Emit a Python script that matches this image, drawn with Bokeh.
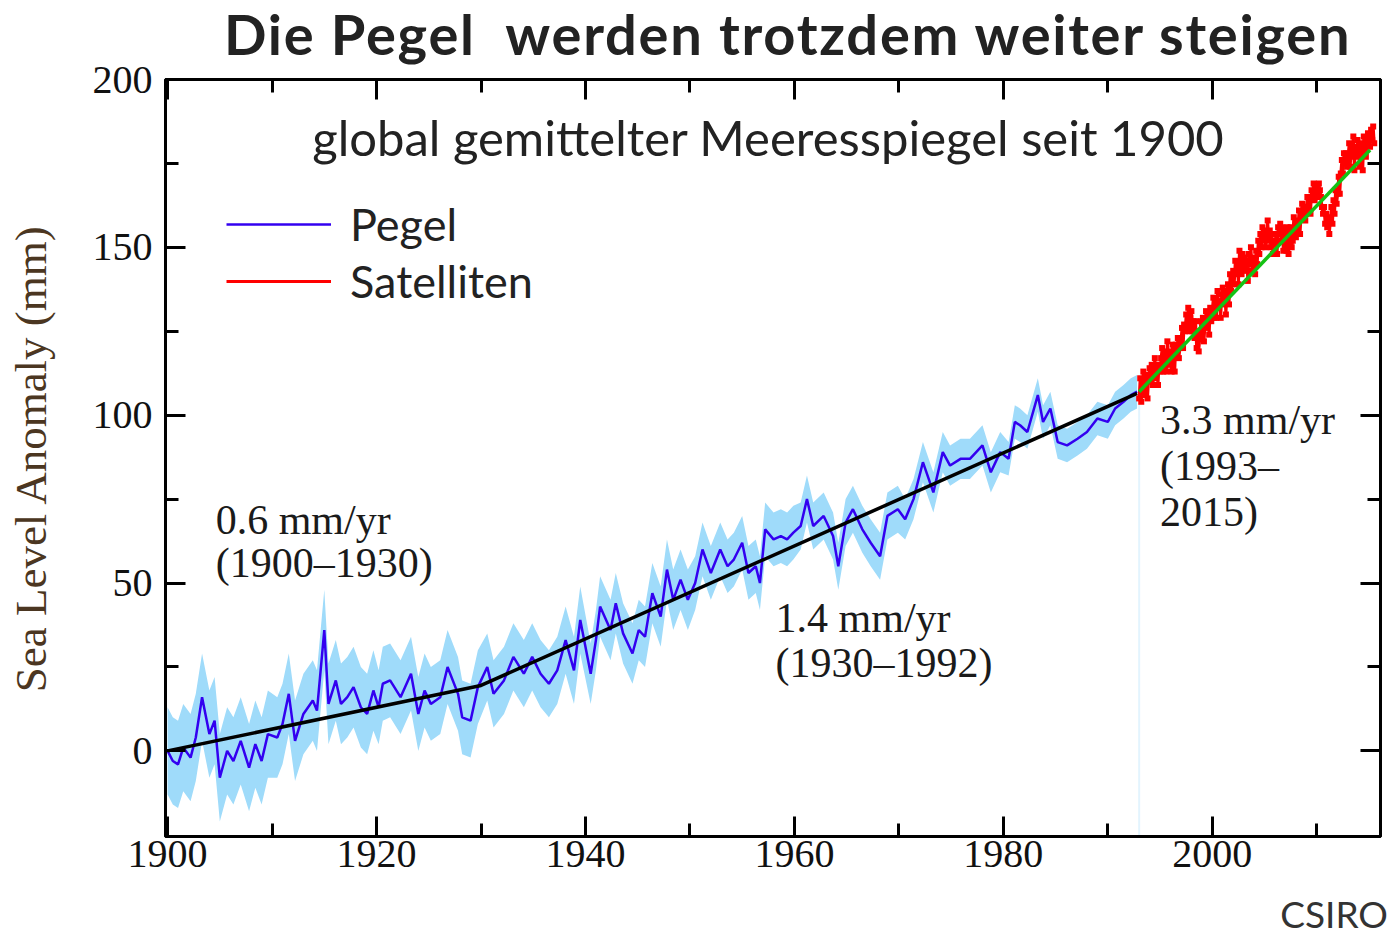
from bokeh.plotting import figure
from bokeh.models import (Range1d, LinearAxis, FixedTicker, Label, Legend, LegendItem,
                          ColumnDataSource, Div)
from bokeh.layouts import column
from bokeh.embed import file_html
from bokeh.resources import INLINE

# ---------------- data ----------------
tide_years = [1900.0, 1900.5, 1901.0, 1901.5, 1902.2, 1902.7, 1903.3, 1904.0, 1904.5, 1905.0,
              1905.7, 1906.3, 1907.0, 1907.8, 1908.4, 1909.0, 1909.6, 1910.5, 1911.0, 1911.6,
              1912.2, 1913.0, 1913.9, 1914.3, 1915.0, 1915.4, 1916.1, 1916.6, 1917.2, 1917.8,
              1918.5, 1919.1, 1919.7, 1920.2, 1920.6, 1921.3, 1922.3, 1923.3, 1924.0, 1924.6,
              1925.2, 1926.1, 1926.8, 1927.8, 1928.2, 1929.0, 1929.7, 1930.6, 1931.2, 1932.2,
              1933.1, 1934.1, 1934.9, 1935.7, 1936.5, 1937.3, 1938.1, 1938.9, 1939.5, 1940.5,
              1941.0, 1941.4, 1942.4, 1942.9, 1943.6, 1944.5, 1945.1, 1945.7, 1946.4, 1947.2,
              1947.8, 1948.4, 1949.1, 1949.8, 1950.5, 1951.2, 1952.0, 1952.9, 1953.6, 1954.2,
              1955.0, 1955.6, 1956.3, 1956.7, 1957.2, 1958.0, 1958.7, 1959.3, 1959.9, 1960.6,
              1961.2, 1961.8, 1962.8, 1963.7, 1964.2, 1964.9, 1965.6, 1966.5, 1967.3, 1968.2,
              1968.9, 1969.9, 1970.6, 1971.4, 1972.3, 1973.3, 1974.2, 1974.9, 1975.9, 1976.8,
              1978.0, 1978.8, 1979.7, 1980.5, 1981.1, 1981.6, 1982.3, 1983.3, 1983.8, 1984.5,
              1985.2, 1986.1, 1987.1, 1988.0, 1989.0, 1990.0, 1990.7, 1991.5, 1992.2, 1992.8]
tide_vals = [0, -3, -4, 1, -2, 4, 16, 5, 9, -8,
             0, -3, 3, -5, 2, -3, 5, 4, 8, 17,
             3, 11, 15, 12, 36, 14, 21, 14, 16, 19,
             13, 11, 18, 13, 20, 21, 16, 23, 11, 18,
             14, 16, 25, 17, 10, 9, 19, 25, 17, 21,
             28, 23, 28, 23, 20, 24, 33, 24, 39, 23,
             33, 43, 36, 44, 35, 29, 36, 34, 47, 40,
             54, 45, 51, 45, 50, 60, 53, 60, 55, 57,
             62, 53, 55, 50, 66, 63, 64, 63, 65, 67,
             75, 67, 70, 64, 55, 68, 72, 66, 62, 58,
             70, 72, 69, 75, 86, 77, 89, 85, 87, 87,
             91, 83, 89, 87, 98, 97, 95, 106, 98, 102,
             92, 91, 93, 95, 99, 98, 102, 104, 106, 107]
# half-width of the light-blue uncertainty band, per decade (mm)
band_decades = [1900, 1910, 1920, 1930, 1940, 1950, 1960, 1970, 1980, 1990]
band_halfwidth = [13, 12, 11, 10, 9, 8, 7, 6, 5, 5]

trend_years = [1900, 1930, 1992.8]
trend_vals = [0, 19.5, 106.5]

sat_start = 1993.0
sat_step = 0.1
sat_vals = [105, 111, 104, 109, 113, 106, 109, 112, 105, 111,
            114, 110, 115, 109, 112, 117, 111, 115, 109, 115,
            113, 117, 120, 113, 119, 115, 113, 122, 117, 115,
            119, 113, 121, 119, 113, 121, 118, 123, 117, 120,
            122, 126, 120, 127, 125, 130, 126, 132, 125, 129,
            131, 125, 128, 123, 128, 120, 125, 119, 123, 128,
            123, 129, 122, 127, 131, 126, 130, 124, 132, 128,
            131, 135, 129, 134, 129, 137, 132, 134, 129, 136,
            138, 133, 137, 130, 137, 139, 133, 142, 137, 139,
            143, 139, 146, 142, 145, 139, 149, 144, 142, 148,
            144, 147, 143, 146, 140, 148, 145, 150, 143, 147,
            145, 142, 149, 145, 152, 148, 154, 150, 156, 152,
            155, 150, 153, 158, 152, 155, 150, 154, 148, 152,
            151, 154, 148, 156, 154, 157, 152, 156, 149, 155,
            152, 149, 156, 148, 152, 156, 150, 152, 159, 155,
            153, 158, 155, 161, 154, 160, 163, 159, 162, 158,
            162, 165, 161, 165, 160, 167, 165, 169, 164, 166,
            168, 165, 169, 167, 165, 162, 160, 162, 157, 160,
            156, 159, 154, 158, 162, 157, 164, 160, 167, 163,
            166, 171, 166, 172, 176, 172, 178, 175, 178, 174,
            177, 181, 174, 180, 177, 183, 173, 180, 177, 182,
            179, 174, 181, 178, 173, 183, 180, 177, 182, 184,
            183, 180, 185, 182, 186, 181]
sat_years = [round(sat_start + sat_step * i, 2) for i in range(len(sat_vals))]

sat_trend_years = [1993.0, 2015.1]
sat_trend_vals = [107, 179]

x_major = [1900, 1920, 1940, 1960, 1980, 2000]
x_minor = [1900, 1910, 1920, 1930, 1940, 1950, 1960, 1970, 1980, 1990, 2000, 2010]
y_major = [0, 50, 100, 150, 200]
y_minor = [25, 75, 125, 175]

title_text = "Die Pegel\u00a0 werden trotzdem weiter steigen"
subtitle_text = "global gemittelter Meeresspiegel seit 1900"
y_label = "Sea Level Anomaly (mm)"
source_text = "CSIRO"

# ---------------- derived sources ----------------
def halfwidth(year):
    hw = band_halfwidth[0]
    for d, w in zip(band_decades, band_halfwidth):
        if year >= d:
            hw = w
    return hw

tide_src = ColumnDataSource(dict(
    x=tide_years, y=tide_vals,
    lo=[v - halfwidth(t) for t, v in zip(tide_years, tide_vals)],
    hi=[v + halfwidth(t) for t, v in zip(tide_years, tide_vals)]))
sat_src = ColumnDataSource(dict(x=sat_years, y=sat_vals))

TITLE_H = 68
SOURCE_H = 45
FIG_H = 936 - SOURCE_H   # figure starts at the top of the page (title overlaid)

Y0, Y1 = -25.5, 200
fig = figure(width=1392, height=FIG_H, output_backend="svg", toolbar_location=None,
             x_range=Range1d(1899.8, 2016.1), y_range=Range1d(Y0, Y1),
             min_border_left=165, min_border_right=12,
             min_border_top=79, min_border_bottom=FIG_H - 836,
             x_axis_location=None, y_axis_location=None)
fig.xgrid.visible = False
fig.ygrid.visible = False
fig.outline_line_color = "black"
fig.outline_line_width = 3
fig.background_fill_color = "white"
fig.border_fill_alpha = 0

SERIF = "Liberation Serif"
SANS = "Lato"

def make_axis(ax, major, minor, labels=True):
    ax.ticker = FixedTicker(ticks=major, minor_ticks=minor)
    ax.axis_line_color = "black"
    ax.axis_line_width = 3
    ax.major_tick_line_width = 3
    ax.minor_tick_line_width = 3
    ax.major_tick_in = 20
    ax.major_tick_out = 0
    ax.minor_tick_in = 13
    ax.minor_tick_out = 0
    ax.major_label_text_font = SERIF
    ax.major_label_text_font_size = "40px"
    ax.major_label_text_color = "#111111"
    if not labels:
        ax.major_label_overrides = {t: "" for t in major}
        ax.major_label_standoff = 0
    return ax

bottom = make_axis(LinearAxis(), x_major, x_minor)
bottom.major_label_standoff = 4
left = make_axis(LinearAxis(), y_major, y_minor)
left.major_label_standoff = 13
left.axis_label = y_label
left.axis_label_text_font = SERIF
left.axis_label_text_font_size = "45px"
left.axis_label_text_font_style = "normal"
left.axis_label_text_color = "#4b3621"
left.axis_label_standoff = 34
top = make_axis(LinearAxis(), x_major, x_minor, labels=False)
right = make_axis(LinearAxis(), y_major, y_minor, labels=False)
fig.add_layout(bottom, "below")
fig.add_layout(left, "left")
fig.add_layout(top, "above")
fig.add_layout(right, "right")

# band, tide gauge line, trends
fig.varea(x="x", y1="lo", y2="hi", source=tide_src, fill_color="#9fdbfa", fill_alpha=1.0)
blue = fig.line(x="x", y="y", source=tide_src, line_color="#3300f0", line_width=2.5)
fig.line(x=trend_years, y=trend_vals, line_color="black", line_width=3.5)
fig.segment(x0=[tide_years[-1] + 0.2], y0=[Y0], x1=[tide_years[-1] + 0.2],
            y1=[tide_vals[-1] + halfwidth(tide_years[-1])], line_color="#e3f4fe", line_width=2)

# satellite
red = fig.line(x="x", y="y", source=sat_src, line_color="#ff0000", line_width=3)
fig.scatter(x="x", y="y", source=sat_src, marker="square", size=6,
            fill_color="#ff0000", line_color="#ff0000", line_width=0)
fig.line(x=sat_trend_years, y=sat_trend_vals, line_color="#14c214", line_width=3.5)

legend = Legend(items=[LegendItem(label="Pegel", renderers=[blue]),
                       LegendItem(label="Satelliten", renderers=[red])],
                location=(61, 528), orientation="vertical",
                glyph_width=105, glyph_height=40, label_height=40, spacing=3,
                label_standoff=19, padding=0, margin=0,
                border_line_color=None, background_fill_alpha=0,
                label_text_font=SANS, label_text_font_size="45px",
                label_text_color="#222222")
fig.add_layout(legend)

# rate annotations (vertically centred on the given value)
def note(x, y, text):
    fig.add_layout(Label(x=x, y=y, text=text, text_font=SERIF, text_font_size="42px",
                         text_color="#1a1a1a", text_baseline="middle", text_align="left"))

note(1904.6, 68.9, "0.6 mm/yr")
note(1904.6, 56.0, "(1900\u20131930)")
note(1958.2, 39.5, "1.4 mm/yr")
note(1958.2, 26.3, "(1930\u20131992)")
note(1995.0, 98.6, "3.3 mm/yr")
note(1995.0, 85.0, "(1993\u2013")
note(1995.0, 71.3, "2015)")

# subtitle inside the frame
fig.add_layout(Label(x=603, y=700, x_units="screen", y_units="screen", text=subtitle_text,
                     text_align="center", text_baseline="middle", text_font=SANS,
                     text_font_size="49px", text_color="#222222"))

# title (HTML block laid over the figure's top border) and source line below
title_div = Div(text=('<div style="margin:0 0 0 224px;font-family:Lato;font-weight:bold;'
                      'font-size:56px;letter-spacing:1.75px;line-height:normal;'
                      'color:#222222;white-space:pre;">' + title_text + '</div>'),
                width=1392, height=TITLE_H, margin=(0, 0, -TITLE_H, 0))
source_div = Div(text=('<div style="width:1388px;text-align:right;font-family:Lato;'
                       'font-size:37px;line-height:normal;color:#333333;white-space:pre;">'
                       + source_text + '</div>'),
                 width=1392, height=SOURCE_H, margin=0)

p = column(title_div, fig, source_div, spacing=0)

open("out.html", "w").write(file_html(p, INLINE))
